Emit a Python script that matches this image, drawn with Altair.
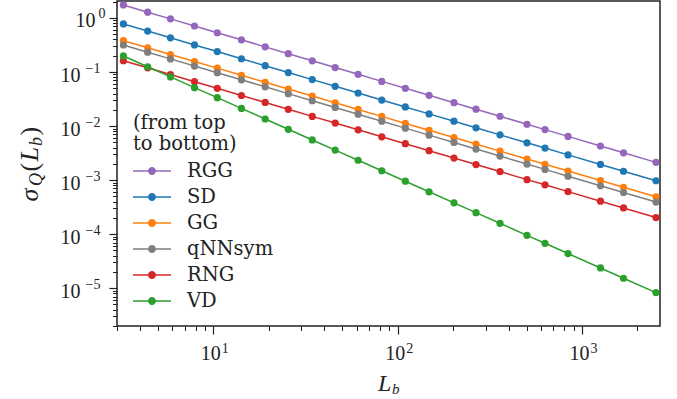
import altair as alt
import pandas as pd

# ---- data ----
L_b = [3.25, 4.4, 5.85, 7.9, 10.5, 14.2, 19.1, 25.5, 34.4, 45.8, 61, 82, 110,
       148, 202, 266, 359, 503, 630, 840, 1260, 1680, 2520]

RGG = [1.74, 1.28, 0.962, 0.710, 0.533, 0.394, 0.292, 0.218, 0.161, 0.121, 0.0906,
       0.0671, 0.0500, 0.0371, 0.0271, 0.0205, 0.0152, 0.0108, 0.0086, 0.00644,
       0.00428, 0.00320, 0.00213]
SD = [0.774, 0.572, 0.430, 0.317, 0.239, 0.176, 0.131, 0.0978, 0.0724, 0.0544, 0.0408,
      0.0303, 0.0226, 0.0168, 0.0123, 0.00929, 0.00688, 0.00490, 0.00392, 0.00293,
      0.00195, 0.00146, 0.000974]
GG = [0.380, 0.281, 0.211, 0.156, 0.118, 0.0871, 0.0647, 0.0484, 0.0359, 0.0270, 0.0203,
      0.0151, 0.0112, 0.00836, 0.00612, 0.00465, 0.00344, 0.00245, 0.00196, 0.00147,
      0.000982, 0.000736, 0.000491]
qNNsym = [0.316, 0.233, 0.175, 0.129, 0.0973, 0.0718, 0.0532, 0.0398, 0.0294, 0.0221,
          0.0166, 0.0123, 0.00916, 0.00679, 0.00497, 0.00376, 0.00279, 0.00198, 0.00158,
          0.00118, 0.000787, 0.000590, 0.000393]
RNG = [0.162, 0.1195, 0.0897, 0.0663, 0.0499, 0.0368, 0.0274, 0.0204, 0.0151, 0.01136,
       0.00853, 0.00633, 0.00472, 0.00350, 0.00256, 0.00194, 0.00144, 0.00102, 0.000818,
       0.000613, 0.000408, 0.000306, 0.000203]
VD = [0.198, 0.1252, 0.0812, 0.0514, 0.0335, 0.0212, 0.01352, 0.00871, 0.00553, 0.00359,
      0.00233, 0.00149, 0.000954, 0.000608, 0.000380, 0.000250, 0.000159, 0.0000951,
      0.0000678, 0.0000438, 0.0000237, 0.0000153, 0.0000083]

series = ["RGG", "SD", "GG", "qNNsym", "RNG", "VD"]
colors = ["#9467bd", "#1f77b4", "#ff7f0e", "#7f7f7f", "#d62728", "#2ca02c"]

x_major = [10, 100, 1000]
x_minor = [3, 4, 5, 6, 7, 8, 9, 20, 30, 40, 50, 60, 70, 80, 90,
           200, 300, 400, 500, 600, 700, 800, 900, 2000]
y_major = [1e-5, 1e-4, 1e-3, 1e-2, 1e-1, 1]
y_minor = [k * 10.0 ** e for e in range(-6, 1) for k in range(2, 10)
           if 2e-6 <= k * 10.0 ** e <= 2.06]

rows = []
for name, vals in zip(series, [RGG, SD, GG, qNNsym, RNG, VD]):
    for xv, yv in zip(L_b, vals):
        rows.append({"L": xv, "s": yv, "method": name})
df = pd.DataFrame(rows)

NUMFONT = "Liberation Serif"
TXTFONT = "DejaVu Serif"
INK = "#222222"

xscale = alt.Scale(type="log", domain=[3, 2650], nice=False)
yscale = alt.Scale(type="log", domain=[2e-6, 2.06], nice=False)

minor_common = dict(labels=False, domain=False, grid=False, title=None,
                    tickSize=4.5, tickWidth=1, tickColor=INK)

base = alt.Chart(df)

# lines (+ minor ticks)
lines = base.mark_line(strokeWidth=1.5).encode(
    x=alt.X("L:Q", scale=xscale, axis=alt.Axis(values=x_minor, orient="bottom", **minor_common)),
    y=alt.Y("s:Q", scale=yscale, axis=alt.Axis(values=y_minor, orient="left", **minor_common)),
    stroke=alt.Stroke("method:N",
                      scale=alt.Scale(domain=series[::-1], range=colors[::-1]),
                      legend=None),
)

sym_path = ("M-1,-0.04H-0.2V0.04H-1Z M0.2,-0.04H1V0.04H0.2Z "
            "M-0.21,0A0.21,0.21,0,1,1,0.21,0A0.21,0.21,0,1,1,-0.21,0Z")

# points (+ major ticks with the mantissa "10")
points = base.mark_circle(size=52, opacity=1).encode(
    x=alt.X("L:Q", scale=xscale, axis=alt.Axis(
        values=x_major, orient="bottom", labelExpr="'10'", domain=False, grid=False,
        title=None, tickSize=8, tickWidth=1.2, tickColor=INK, labelPadding=9,
        labelAlign="right", labelOffset=7, labelBaseline="top",
        labelFont=NUMFONT, labelFontSize=20, labelColor=INK)),
    y=alt.Y("s:Q", scale=yscale, axis=alt.Axis(
        values=y_major, orient="left", labelExpr="'10'", domain=False, grid=False,
        title=None, tickSize=8, tickWidth=1.2, tickColor=INK,
        labelPadding={"condition": {"test": "datum.value >= 0.5", "value": 14}, "value": 29},
        labelAlign="right", labelOffset=3, labelBaseline="middle",
        labelFont=NUMFONT, labelFontSize=20, labelColor=INK)),
    fill=alt.Fill("method:N", scale=alt.Scale(domain=series, range=colors),
                  legend=alt.Legend(
                      title=["(from top", "to bottom)"], orient="none",
                      legendX=16, legendY=113, symbolType=sym_path, symbolSize=1444,
                      symbolStrokeWidth=0, symbolOpacity=1, clipHeight=25.8,
                      rowPadding=0, labelOffset=16, padding=0,
                      labelFont=TXTFONT, labelFontSize=19.5, labelColor=INK,
                      titleFont=TXTFONT, titleFontSize=19.5, titleFontWeight="normal",
                      titleColor=INK, titleLineHeight=21, titlePadding=3.5,
                      titleAnchor="start", labelLimit=0)),
)

exp_expr = ("(round(log(datum.value)/LN10) < 0 ? '\u2212' : '') + "
            "abs(round(log(datum.value)/LN10))")

# invisible layer carrying the exponent labels
expo = base.mark_circle(size=1, opacity=0).encode(
    x=alt.X("L:Q", scale=xscale, axis=alt.Axis(
        values=x_major, orient="bottom", labelExpr=exp_expr, domain=False, grid=False,
        ticks=False, tickSize=0, title=None, labelPadding=15, labelAlign="left",
        labelOffset=8, labelBaseline="top",
        labelFont=NUMFONT, labelFontSize=14, labelColor=INK)),
    y=alt.Y("s:Q", scale=yscale, axis=alt.Axis(
        values=y_major, orient="left", labelExpr=exp_expr, domain=False, grid=False,
        ticks=False, tickSize=0, title=None,
        labelPadding={"condition": {"test": "datum.value >= 0.5", "value": 12}, "value": 17},
        labelAlign="right", labelOffset=-4, labelBaseline="middle",
        labelFont=NUMFONT, labelFontSize=14, labelColor=INK)),
)

one = pd.DataFrame({"k": [0]})


def piece(txt, x, y, size=22, italic=True, angle=0):
    return alt.Chart(one).mark_text(
        text=txt, font=NUMFONT, fontSize=size, fontStyle="italic" if italic else "normal",
        align="left", baseline="alphabetic", angle=angle, color=INK,
    ).encode(x=alt.value(x), y=alt.value(y))


# y title  sigma_Q(L_b), rotated to read upwards
ytitle = [
    piece("σ", -79, 200.5, size=26, angle=270),
    piece("Q", -75, 185, size=18, angle=270),
    piece("(", -79, 170.5, size=26, italic=False, angle=270),
    piece("L", -79, 160.5, size=26, angle=270),
    piece("b", -75, 145, size=18, angle=270),
    piece(")", -79, 134.5, size=26, italic=False, angle=270),
]
# x title  L_b
xtitle = [
    piece("L", 261, 390, size=24),
    piece("b", 275, 393, size=15),
]

chart = alt.layer(lines, points, expo, *ytitle, *xtitle).resolve_axis(
    x="independent", y="independent"
).properties(
    width=543, height=325,
    padding={"left": 117, "top": 1, "right": 17, "bottom": 73},
    autosize=alt.AutoSizeParams(type="none"),
).configure_view(stroke=INK, strokeWidth=1.5)

chart.save("out.html", embed_options={"renderer": "svg", "actions": False})
